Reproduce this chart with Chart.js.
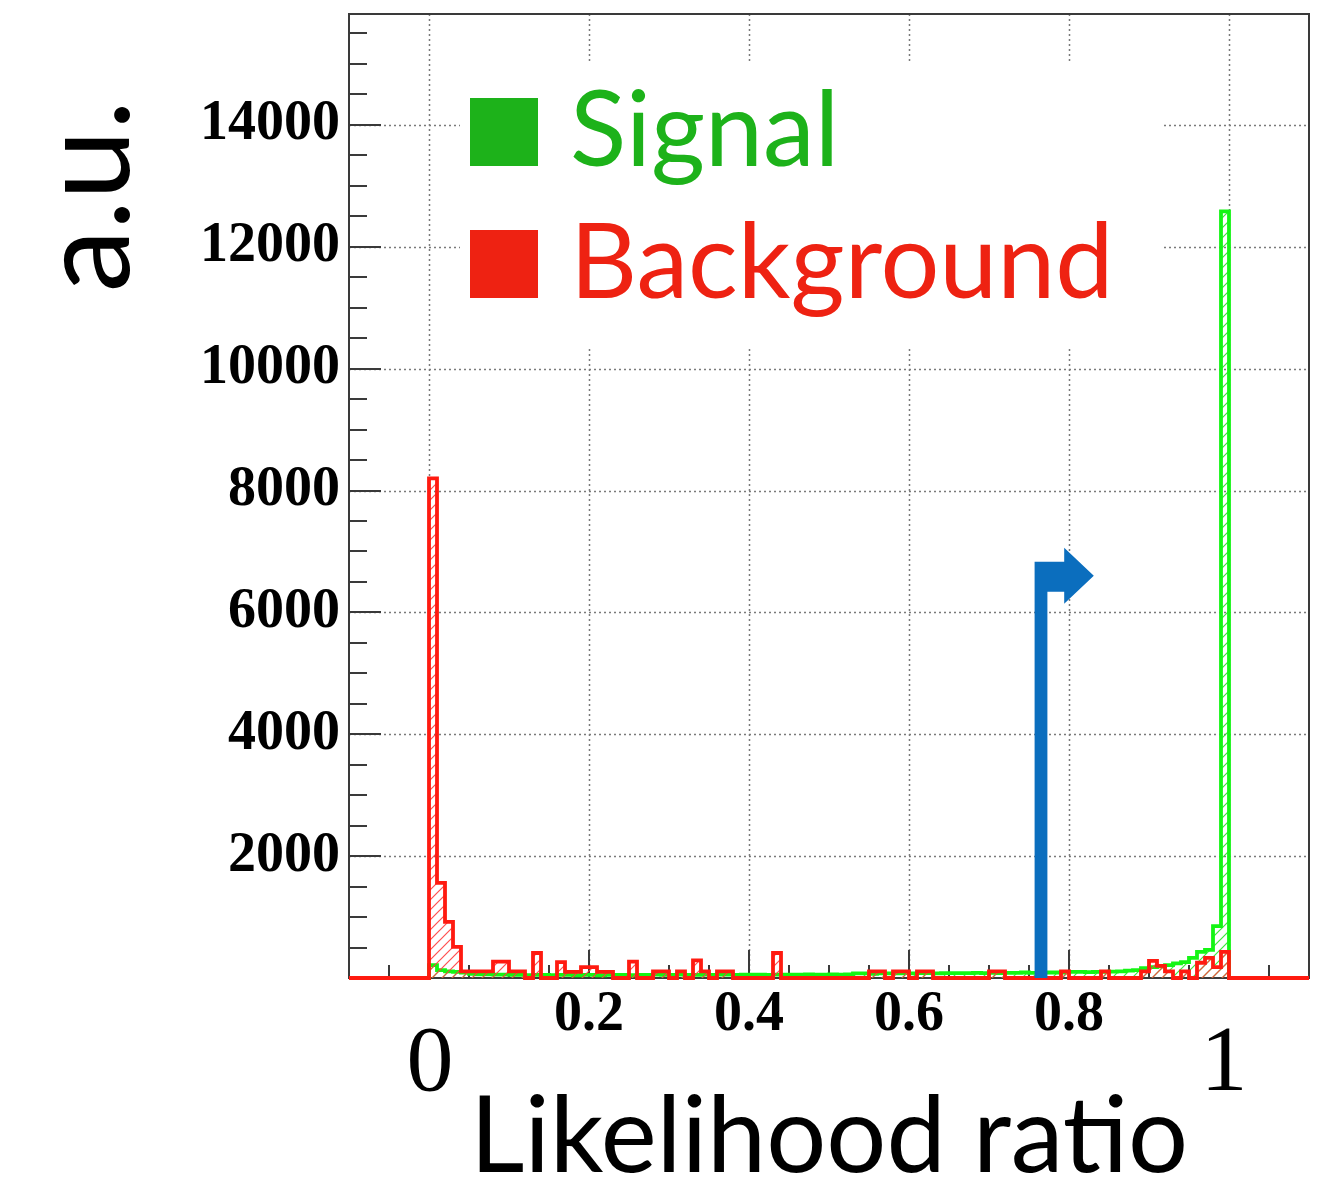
<!DOCTYPE html>
<html>
<head>
<meta charset="utf-8">
<script src="https://cdn.jsdelivr.net/npm/chart.js@4.4.0/dist/chart.umd.min.js"></script>
<style>
  html, body { margin: 0; padding: 0; background: #fff; }
  #wrap { width: 1323px; height: 1181px; }
</style>
</head>
<body>
<div id="wrap"><canvas id="chart" width="1323" height="1181"></canvas></div>
<script>
'use strict';

var chart;

// histogram: 100 bins of 0.01 between 0 and 1
var binWidth = 0.01;
var xRange = [-0.1, 1.1];
var yRange = [0, 15820];

var backgroundCounts = [
    8200, 1560, 920, 510, 110, 110, 110, 110, 270, 270,
    110, 110, 0, 410, 0, 0, 260, 100, 100, 180,
    180, 100, 100, 0, 0, 270, 0, 0, 110, 110,
    0, 110, 0, 290, 110, 0, 110, 110, 0, 0,
    0, 0, 0, 410, 0, 0, 0, 0, 0, 0,
    0, 0, 0, 0, 0, 110, 110, 0, 110, 110,
    0, 110, 110, 0, 0, 0, 0, 0, 0, 0,
    110, 110, 0, 0, 0, 0, 0, 0, 0, 110,
    0, 0, 0, 0, 110, 0, 0, 0, 0, 110,
    280, 200, 110, 0, 110, 0, 250, 330, 180, 430
];

var signalCounts = [
    210, 130, 110, 100, 90, 70, 60, 60, 55, 55,
    50, 50, 45, 50, 50, 45, 50, 50, 45, 50,
    50, 45, 50, 50, 50, 45, 50, 50, 55, 50,
    50, 55, 50, 50, 55, 50, 55, 55, 50, 55,
    55, 55, 50, 55, 55, 55, 55, 60, 55, 55,
    60, 55, 60, 75, 75, 70, 75, 75, 75, 80,
    75, 80, 80, 75, 80, 80, 80, 80, 85, 80,
    85, 80, 85, 85, 90, 85, 85, 90, 90, 90,
    100, 100, 95, 100, 100, 105, 110, 120, 130, 160,
    180, 190, 210, 240, 260, 330, 430, 460, 850, 12580
];

var yTickValues = [2000, 4000, 6000, 8000, 10000, 12000, 14000];
var yMinorStep = 500;
var xTickValues = [0.2, 0.4, 0.6, 0.8];
var xGridValues = [0, 0.2, 0.4, 0.6, 0.8, 1.0];
var xMinorStep = 0.05;
var xEndLabels = [{ value: 0, text: '0' }, { value: 1, text: '1' }];

var legendItems = [
    { text: 'Signal', color: '#1db21a', y: 166 },
    { text: 'Background', color: '#ee2212', y: 298 }
];

// cut arrow, in data units
var cutArrow = {
    shaftLeft: 0.757, shaftRight: 0.773, headBase: 0.794, tip: 0.831,
    barTop: 6830, barBottom: 6340, headTop: 7060, headBottom: 6140, tipY: 6600
};

var canvas = document.getElementById('chart');
var ctx = canvas.getContext('2d');

function hatch(color) {
    var c = document.createElement('canvas');
    c.width = 10;
    c.height = 10;
    var g = c.getContext('2d');
    g.strokeStyle = color;
    g.lineWidth = 1.2;
    g.beginPath();
    g.moveTo(-1, 11); g.lineTo(11, -1);
    g.moveTo(-6, 6); g.lineTo(6, -6);
    g.moveTo(4, 16); g.lineTo(16, 4);
    g.stroke();
    return ctx.createPattern(c, 'repeat');
}

function histPoints(counts) {
    var pts = [{ x: xRange[0], y: 0 }];
    counts.forEach((c, i) => pts.push({ x: i * binWidth, y: c }));
    pts.push({ x: counts.length * binWidth, y: 0 });
    pts.push({ x: xRange[1], y: 0 });
    return pts;
}

var rootStyle = {
    id: 'rootStyle',
    beforeDatasetsDraw(chart) {
        var c = chart.ctx, a = chart.chartArea;
        var xs = chart.scales.x, ys = chart.scales.y;
        c.save();
        // dotted grid
        c.strokeStyle = '#7a7a7a';
        c.lineWidth = 1.5;
        c.setLineDash([2, 3]);
        c.beginPath();
        xGridValues.forEach(v => {
            var px = Math.round(xs.getPixelForValue(v)) + 0.5;
            c.moveTo(px, a.top); c.lineTo(px, a.bottom);
        });
        yTickValues.forEach(v => {
            var py = Math.round(ys.getPixelForValue(v)) + 0.5;
            c.moveTo(a.left, py); c.lineTo(a.right, py);
        });
        c.stroke();
        c.setLineDash([]);
        // legend box hides the grid behind it
        c.fillStyle = '#fff';
        c.fillRect(460, 62, 704, 284);
        // frame
        c.strokeStyle = '#3a3a3a';
        c.lineWidth = 2;
        c.strokeRect(a.left, a.top, a.right - a.left, a.bottom - a.top);
        // ticks
        c.beginPath();
        for (var v = yMinorStep; v < yRange[1]; v += yMinorStep) {
            var major = v % 2000 === 0;
            var py = Math.round(ys.getPixelForValue(v));
            c.moveTo(a.left, py); c.lineTo(a.left + (major ? 32 : 18), py);
        }
        for (var i = -1; i <= 21; i++) {
            var xv = i * xMinorStep;
            var isMajor = i % 4 === 0 && i >= 0 && i <= 20;
            var px = Math.round(xs.getPixelForValue(xv));
            c.moveTo(px, a.bottom); c.lineTo(px, a.bottom - (isMajor ? 28 : 13));
        }
        c.stroke();
        c.restore();
    },
    afterDatasetsDraw(chart) {
        var c = chart.ctx;
        var xs = chart.scales.x, ys = chart.scales.y;
        c.save();
        // arrow
        var X = v => xs.getPixelForValue(v), Y = v => ys.getPixelForValue(v);
        var p = cutArrow;
        c.fillStyle = '#0b6ebe';
        c.beginPath();
        c.moveTo(X(p.shaftLeft), Y(0));
        c.lineTo(X(p.shaftLeft), Y(p.barTop));
        c.lineTo(X(p.headBase), Y(p.barTop));
        c.lineTo(X(p.headBase), Y(p.headTop));
        c.lineTo(X(p.tip), Y(p.tipY));
        c.lineTo(X(p.headBase), Y(p.headBottom));
        c.lineTo(X(p.headBase), Y(p.barBottom));
        c.lineTo(X(p.shaftRight), Y(p.barBottom));
        c.lineTo(X(p.shaftRight), Y(0));
        c.closePath();
        c.fill();
        // legend
        c.font = '104px Lato';
        c.textBaseline = 'alphabetic';
        c.textAlign = 'left';
        legendItems.forEach(it => {
            c.fillStyle = it.color;
            c.fillRect(470, it.y - 68, 68, 68);
            c.fillText(it.text, 570, it.y);
        });
        // big 0 and 1 under the axis (the "1" sits a bit left of its tick)
        c.fillStyle = '#000';
        c.font = '94px "Liberation Serif"';
        c.textAlign = 'center';
        xEndLabels.forEach(l => c.fillText(l.text, xs.getPixelForValue(l.value) + (l.value ? -5 : 1), 1090));
        // y title
        c.font = '126px Lato';
        c.translate(129, 100);
        c.rotate(-Math.PI / 2);
        c.textAlign = 'right';
        c.fillText('a.u.', 0, 0);
        c.restore();
    }
};

var tickFont = { family: 'Liberation Serif', size: 56, weight: 'bold', lineHeight: 1 };

chart = new Chart(canvas, {
    type: 'line',
    data: {
        datasets: [{
            label: 'Background',
            data: histPoints(backgroundCounts),
            stepped: true,
            borderColor: '#ff1a10',
            borderWidth: 3.8,
            backgroundColor: hatch('rgba(255,60,60,0.9)'),
            fill: 'origin',
            pointRadius: 0,
            clip: 4
        }, {
            label: 'Signal',
            data: histPoints(signalCounts),
            stepped: true,
            borderColor: '#14f514',
            borderWidth: 3.8,
            backgroundColor: hatch('rgba(40,230,40,0.9)'),
            fill: 'origin',
            pointRadius: 0,
            clip: 4
        }]
    },
    options: {
        responsive: false,
        animation: false,
        layout: { padding: { top: 14, right: 14, left: 0, bottom: 0 } },
        plugins: { legend: { display: false }, tooltip: { enabled: false } },
        scales: {
            x: {
                type: 'linear',
                min: xRange[0],
                max: xRange[1],
                afterBuildTicks: s => { s.ticks = xTickValues.map(v => ({ value: v })); },
                afterFit: s => { s.height = 203; s.paddingLeft = 0; s.paddingRight = 0; },
                grid: { display: false, drawTicks: false },
                border: { display: false },
                ticks: { font: tickFont, color: '#000', padding: 10, maxRotation: 0, callback: v => v.toFixed(1) },
                title: {
                    display: true,
                    text: 'Likelihood ratio',
                    color: '#000',
                    font: { family: 'Lato', size: 106, lineHeight: 0.9 },
                    padding: { top: 0, bottom: -5 }
                }
            },
            y: {
                min: yRange[0],
                max: yRange[1],
                afterBuildTicks: s => { s.ticks = yTickValues.map(v => ({ value: v })); },
                afterFit: s => { s.width = 349; s.paddingTop = 0; s.paddingBottom = 0; },
                grid: { display: false, drawTicks: false },
                border: { display: false },
                ticks: { font: tickFont, color: '#000', padding: 9, callback: v => String(v) }
            }
        }
    },
    plugins: [rootStyle]
});
</script>
</body>
</html>
